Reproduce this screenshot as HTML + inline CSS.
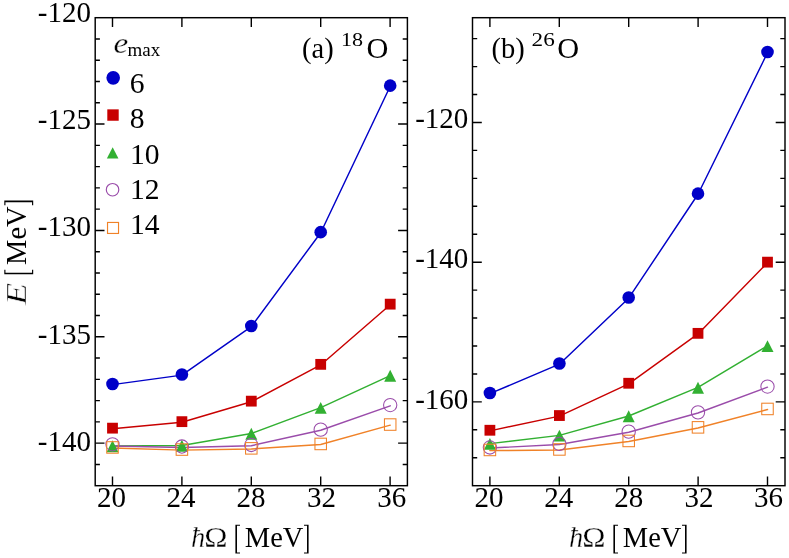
<!DOCTYPE html>
<html><head><meta charset="utf-8"><title>chart</title>
<style>html,body{margin:0;padding:0;background:#fff}svg{display:block}text{font-family:"Liberation Serif",serif;fill:#000}svg{will-change:transform}</style>
</head><body>
<svg width="789" height="558" viewBox="0 0 789 558">
<rect x="0" y="0" width="789" height="558" fill="#fff"/>
<polyline points="112.50,384.65 181.90,375.15 251.30,326.65 320.70,232.75 390.20,86.25" fill="none" stroke="#0000c8" stroke-width="1.45" stroke-linecap="round" stroke-linejoin="round"/>
<polyline points="112.50,428.75 181.90,422.25 251.30,401.75 320.70,364.95 390.20,304.75" fill="none" stroke="#c80000" stroke-width="1.45" stroke-linecap="round" stroke-linejoin="round"/>
<polyline points="112.50,446.05 181.90,445.45 251.30,433.55 320.70,407.65 390.20,375.55" fill="none" stroke="#32b032" stroke-width="1.45" stroke-linecap="round" stroke-linejoin="round"/>
<polyline points="112.50,445.95 181.90,447.45 251.30,445.70 320.70,430.25 390.20,405.85" fill="none" stroke="#9a4caa" stroke-width="1.45" stroke-linecap="round" stroke-linejoin="round"/>
<polyline points="112.50,448.05 181.90,450.15 251.30,448.95 320.70,444.55 390.20,425.15" fill="none" stroke="#f08228" stroke-width="1.45" stroke-linecap="round" stroke-linejoin="round"/>
<circle cx="112.50" cy="384.05" r="6.3" fill="#0000c8"/>
<circle cx="181.90" cy="374.55" r="6.3" fill="#0000c8"/>
<circle cx="251.30" cy="326.05" r="6.3" fill="#0000c8"/>
<circle cx="320.70" cy="232.15" r="6.3" fill="#0000c8"/>
<circle cx="390.20" cy="85.65" r="6.3" fill="#0000c8"/>
<rect x="107.10" y="422.75" width="10.8" height="10.8" fill="#c80000"/>
<rect x="176.50" y="416.25" width="10.8" height="10.8" fill="#c80000"/>
<rect x="245.90" y="395.75" width="10.8" height="10.8" fill="#c80000"/>
<rect x="315.30" y="358.95" width="10.8" height="10.8" fill="#c80000"/>
<rect x="384.80" y="298.75" width="10.8" height="10.8" fill="#c80000"/>
<path d="M112.50 440.35L118.50 452.25H106.50Z" fill="#32b032"/>
<path d="M181.90 439.75L187.90 451.65H175.90Z" fill="#32b032"/>
<path d="M251.30 427.85L257.30 439.75H245.30Z" fill="#32b032"/>
<path d="M320.70 401.95L326.70 413.85H314.70Z" fill="#32b032"/>
<path d="M390.20 369.85L396.20 381.75H384.20Z" fill="#32b032"/>
<circle cx="112.50" cy="444.30" r="6.65" fill="none" stroke="#9a4caa" stroke-width="1.05"/>
<circle cx="181.90" cy="446.50" r="6.65" fill="none" stroke="#9a4caa" stroke-width="1.05"/>
<circle cx="251.30" cy="444.95" r="6.65" fill="none" stroke="#9a4caa" stroke-width="1.05"/>
<circle cx="320.70" cy="429.65" r="6.65" fill="none" stroke="#9a4caa" stroke-width="1.05"/>
<circle cx="390.20" cy="405.05" r="6.65" fill="none" stroke="#9a4caa" stroke-width="1.05"/>
<rect x="106.75" y="441.70" width="11.5" height="11.5" fill="none" stroke="#f08228" stroke-width="1.05"/>
<rect x="176.15" y="443.80" width="11.5" height="11.5" fill="none" stroke="#f08228" stroke-width="1.05"/>
<rect x="245.55" y="442.60" width="11.5" height="11.5" fill="none" stroke="#f08228" stroke-width="1.05"/>
<rect x="314.95" y="438.20" width="11.5" height="11.5" fill="none" stroke="#f08228" stroke-width="1.05"/>
<rect x="384.45" y="418.80" width="11.5" height="11.5" fill="none" stroke="#f08228" stroke-width="1.05"/>
<polyline points="489.90,393.65 559.40,364.15 628.70,298.15 698.00,194.25 767.50,52.65" fill="none" stroke="#0000c8" stroke-width="1.45" stroke-linecap="round" stroke-linejoin="round"/>
<polyline points="489.90,430.85 559.40,416.15 628.70,383.85 698.00,333.95 767.50,262.75" fill="none" stroke="#c80000" stroke-width="1.45" stroke-linecap="round" stroke-linejoin="round"/>
<polyline points="489.90,443.65 559.40,435.35 628.70,416.00 698.00,387.45 767.50,345.85" fill="none" stroke="#32b032" stroke-width="1.45" stroke-linecap="round" stroke-linejoin="round"/>
<polyline points="489.90,448.05 559.40,444.50 628.70,432.25 698.00,412.95 767.50,387.15" fill="none" stroke="#9a4caa" stroke-width="1.45" stroke-linecap="round" stroke-linejoin="round"/>
<polyline points="489.90,450.55 559.40,450.05 628.70,441.55 698.00,427.95 767.50,409.55" fill="none" stroke="#f08228" stroke-width="1.45" stroke-linecap="round" stroke-linejoin="round"/>
<circle cx="489.90" cy="393.05" r="6.3" fill="#0000c8"/>
<circle cx="559.40" cy="363.55" r="6.3" fill="#0000c8"/>
<circle cx="628.70" cy="297.55" r="6.3" fill="#0000c8"/>
<circle cx="698.00" cy="193.65" r="6.3" fill="#0000c8"/>
<circle cx="767.50" cy="52.05" r="6.3" fill="#0000c8"/>
<rect x="484.50" y="424.85" width="10.8" height="10.8" fill="#c80000"/>
<rect x="554.00" y="410.15" width="10.8" height="10.8" fill="#c80000"/>
<rect x="623.30" y="377.85" width="10.8" height="10.8" fill="#c80000"/>
<rect x="692.60" y="327.95" width="10.8" height="10.8" fill="#c80000"/>
<rect x="762.10" y="256.75" width="10.8" height="10.8" fill="#c80000"/>
<path d="M489.90 437.95L495.90 449.85H483.90Z" fill="#32b032"/>
<path d="M559.40 429.65L565.40 441.55H553.40Z" fill="#32b032"/>
<path d="M628.70 410.30L634.70 422.20H622.70Z" fill="#32b032"/>
<path d="M698.00 381.75L704.00 393.65H692.00Z" fill="#32b032"/>
<path d="M767.50 340.15L773.50 352.05H761.50Z" fill="#32b032"/>
<circle cx="489.90" cy="447.45" r="6.65" fill="none" stroke="#9a4caa" stroke-width="1.05"/>
<circle cx="559.40" cy="443.90" r="6.65" fill="none" stroke="#9a4caa" stroke-width="1.05"/>
<circle cx="628.70" cy="431.65" r="6.65" fill="none" stroke="#9a4caa" stroke-width="1.05"/>
<circle cx="698.00" cy="412.35" r="6.65" fill="none" stroke="#9a4caa" stroke-width="1.05"/>
<circle cx="767.50" cy="386.55" r="6.65" fill="none" stroke="#9a4caa" stroke-width="1.05"/>
<rect x="484.15" y="444.20" width="11.5" height="11.5" fill="none" stroke="#f08228" stroke-width="1.05"/>
<rect x="553.65" y="443.70" width="11.5" height="11.5" fill="none" stroke="#f08228" stroke-width="1.05"/>
<rect x="622.95" y="435.20" width="11.5" height="11.5" fill="none" stroke="#f08228" stroke-width="1.05"/>
<rect x="692.25" y="421.60" width="11.5" height="11.5" fill="none" stroke="#f08228" stroke-width="1.05"/>
<rect x="761.75" y="403.20" width="11.5" height="11.5" fill="none" stroke="#f08228" stroke-width="1.05"/>
<path d="M112.50 17.7v9.3M112.50 485.7v-9.3M181.90 17.7v9.3M181.90 485.7v-9.3M251.30 17.7v9.3M251.30 485.7v-9.3M320.70 17.7v9.3M320.70 485.7v-9.3M390.10 17.7v9.3M390.10 485.7v-9.3M95.2 124.06h9.3M407.4 124.06h-9.3M95.2 230.43h9.3M407.4 230.43h-9.3M95.2 336.79h9.3M407.4 336.79h-9.3M95.2 443.15h9.3M407.4 443.15h-9.3M95.2 464.43h4.7M407.4 464.43h-4.7M95.2 421.88h4.7M407.4 421.88h-4.7M95.2 400.61h4.7M407.4 400.61h-4.7M95.2 379.34h4.7M407.4 379.34h-4.7M95.2 358.06h4.7M407.4 358.06h-4.7M95.2 315.52h4.7M407.4 315.52h-4.7M95.2 294.25h4.7M407.4 294.25h-4.7M95.2 272.97h4.7M407.4 272.97h-4.7M95.2 251.70h4.7M407.4 251.70h-4.7M95.2 209.15h4.7M407.4 209.15h-4.7M95.2 187.88h4.7M407.4 187.88h-4.7M95.2 166.61h4.7M407.4 166.61h-4.7M95.2 145.34h4.7M407.4 145.34h-4.7M95.2 102.79h4.7M407.4 102.79h-4.7M95.2 81.52h4.7M407.4 81.52h-4.7M95.2 60.25h4.7M407.4 60.25h-4.7M95.2 38.97h4.7M407.4 38.97h-4.7" stroke="#000" stroke-width="1.4" fill="none"/>
<rect x="95.2" y="17.7" width="312.20" height="468.00" fill="none" stroke="#000" stroke-width="1.45"/>
<path d="M489.90 17.7v9.3M489.90 485.7v-9.3M559.30 17.7v9.3M559.30 485.7v-9.3M628.70 17.7v9.3M628.70 485.7v-9.3M698.10 17.7v9.3M698.10 485.7v-9.3M767.50 17.7v9.3M767.50 485.7v-9.3M472.5 122.48h9.3M785.0 122.48h-9.3M472.5 262.18h9.3M785.0 262.18h-9.3M472.5 401.88h9.3M785.0 401.88h-9.3M472.5 457.76h4.7M785.0 457.76h-4.7M472.5 429.82h4.7M785.0 429.82h-4.7M472.5 373.94h4.7M785.0 373.94h-4.7M472.5 346.00h4.7M785.0 346.00h-4.7M472.5 318.06h4.7M785.0 318.06h-4.7M472.5 290.12h4.7M785.0 290.12h-4.7M472.5 234.24h4.7M785.0 234.24h-4.7M472.5 206.30h4.7M785.0 206.30h-4.7M472.5 178.36h4.7M785.0 178.36h-4.7M472.5 150.42h4.7M785.0 150.42h-4.7M472.5 94.54h4.7M785.0 94.54h-4.7M472.5 66.60h4.7M785.0 66.60h-4.7M472.5 38.66h4.7M785.0 38.66h-4.7" stroke="#000" stroke-width="1.4" fill="none"/>
<rect x="472.5" y="17.7" width="312.50" height="468.00" fill="none" stroke="#000" stroke-width="1.45"/>
<circle cx="113.2" cy="77.85" r="6.8" fill="#0000c8"/>
<rect x="107.3" y="109.35" width="11.4" height="11.4" fill="#c80000"/>
<path d="M112.65 147.2L118.45 158.5H106.85000000000001Z" fill="#32b032"/>
<circle cx="112.55" cy="189.7" r="6.25" fill="none" stroke="#9a4caa" stroke-width="1.15"/>
<rect x="107.53" y="222.45" width="11.0" height="11.0" fill="none" stroke="#f08228" stroke-width="1.15"/>
<text x="129.7" y="92.5" font-size="29.6" text-anchor="start" >6</text>
<text x="129.7" y="128.1" font-size="29.6" text-anchor="start" >8</text>
<text x="130.0" y="163.8" font-size="29.6" text-anchor="start" >10</text>
<text x="130.0" y="199.1" font-size="29.6" text-anchor="start" >12</text>
<text x="130.0" y="234.3" font-size="29.6" text-anchor="start" >14</text>
<text transform="translate(113.4,52.8) scale(1.17,1.0)" font-size="28.5" text-anchor="start" font-style="italic" stroke="#fff" stroke-width="0.3">e</text>
<text x="127.6" y="55.7" font-size="19" text-anchor="start" >max</text>
<text transform="translate(91.0,22.2) scale(1.0,1.02)" font-size="29.0" text-anchor="end" >-120</text>
<text transform="translate(91.0,129.1) scale(1.0,1.02)" font-size="29.0" text-anchor="end" >-125</text>
<text transform="translate(91.0,236.2) scale(1.0,1.02)" font-size="29.0" text-anchor="end" >-130</text>
<text transform="translate(91.0,343.5) scale(1.0,1.02)" font-size="29.0" text-anchor="end" >-135</text>
<text transform="translate(91.0,450.9) scale(1.0,1.02)" font-size="29.0" text-anchor="end" >-140</text>
<text transform="translate(468.3,127.7) scale(1.0,1.02)" font-size="29.0" text-anchor="end" >-120</text>
<text transform="translate(468.3,268.4) scale(1.0,1.02)" font-size="29.0" text-anchor="end" >-140</text>
<text transform="translate(468.3,409.1) scale(1.0,1.02)" font-size="29.0" text-anchor="end" >-160</text>
<text transform="translate(111.6,507.4) scale(1.0,1.02)" font-size="29.0" text-anchor="middle" >20</text>
<text transform="translate(181.10000000000002,507.4) scale(1.0,1.02)" font-size="29.0" text-anchor="middle" >24</text>
<text transform="translate(251.10000000000002,507.4) scale(1.0,1.02)" font-size="29.0" text-anchor="middle" >28</text>
<text transform="translate(321.5,507.4) scale(1.0,1.02)" font-size="29.0" text-anchor="middle" >32</text>
<text transform="translate(391.8,507.4) scale(1.0,1.02)" font-size="29.0" text-anchor="middle" >36</text>
<text transform="translate(489.0,507.4) scale(1.0,1.02)" font-size="29.0" text-anchor="middle" >20</text>
<text transform="translate(558.6999999999999,507.4) scale(1.0,1.02)" font-size="29.0" text-anchor="middle" >24</text>
<text transform="translate(628.6999999999999,507.4) scale(1.0,1.02)" font-size="29.0" text-anchor="middle" >28</text>
<text transform="translate(698.9,507.4) scale(1.0,1.02)" font-size="29.0" text-anchor="middle" >32</text>
<text transform="translate(768.5,507.4) scale(1.0,1.02)" font-size="29.0" text-anchor="middle" >36</text>
<text x="302.0" y="58.0" font-size="28.5" text-anchor="start" >(a)</text>
<text transform="translate(341.0,45.5) scale(1.2,1.0)" font-size="18.4" text-anchor="start" >18</text>
<text x="366.5" y="58.4" font-size="30.3" text-anchor="start" >O</text>
<text x="491.6" y="58.0" font-size="28.5" text-anchor="start" >(b)</text>
<text transform="translate(531.6,45.5) scale(1.26,1.0)" font-size="18.4" text-anchor="start" >26</text>
<text x="557.3" y="58.4" font-size="30.3" text-anchor="start" >O</text>
<text x="191.1" y="546.5" font-size="28.5" text-anchor="start" font-style="italic" stroke="#fff" stroke-width="0.35">ħ</text>
<text transform="translate(204.2,546.5) scale(1.1,1.0)" font-size="28.5" text-anchor="start" stroke="#fff" stroke-width="0.3">Ω</text>
<path d="M235.39999999999998 524.7H239.99999999999997V525.85H236.99999999999997V552.45H239.99999999999997V553.6H235.39999999999998Z" fill="#000"/>
<text x="244.8" y="546.5" font-size="28.5" text-anchor="start" >MeV</text>
<path d="M308.6 524.7H304.0V525.85H307.0V552.45H304.0V553.6H308.6Z" fill="#000"/>
<text x="569.1" y="546.5" font-size="28.5" text-anchor="start" font-style="italic" stroke="#fff" stroke-width="0.35">ħ</text>
<text transform="translate(582.2,546.5) scale(1.1,1.0)" font-size="28.5" text-anchor="start" stroke="#fff" stroke-width="0.3">Ω</text>
<path d="M613.4 524.7H618.0V525.85H615.0V552.45H618.0V553.6H613.4Z" fill="#000"/>
<text x="622.8000000000001" y="546.5" font-size="28.5" text-anchor="start" >MeV</text>
<path d="M686.6 524.7H682.0V525.85H685.0V552.45H682.0V553.6H686.6Z" fill="#000"/>
<g transform="translate(26.1,304.9) rotate(-90)">
<text transform="translate(-0.1,0) scale(1.22,1.0)" font-size="29.6" text-anchor="start" font-style="italic" stroke="#fff" stroke-width="0.5">E</text>
<path d="M30.6 -21.8H35.2V-20.650000000000002H32.2V5.949999999999999H35.2V7.1H30.6Z" fill="#000"/>
<text x="39.95" y="0" font-size="28.5" text-anchor="start" >MeV</text>
<path d="M104.35 -21.8H99.75V-20.650000000000002H102.75V5.949999999999999H99.75V7.1H104.35Z" fill="#000"/>
</g>
</svg></body></html>
